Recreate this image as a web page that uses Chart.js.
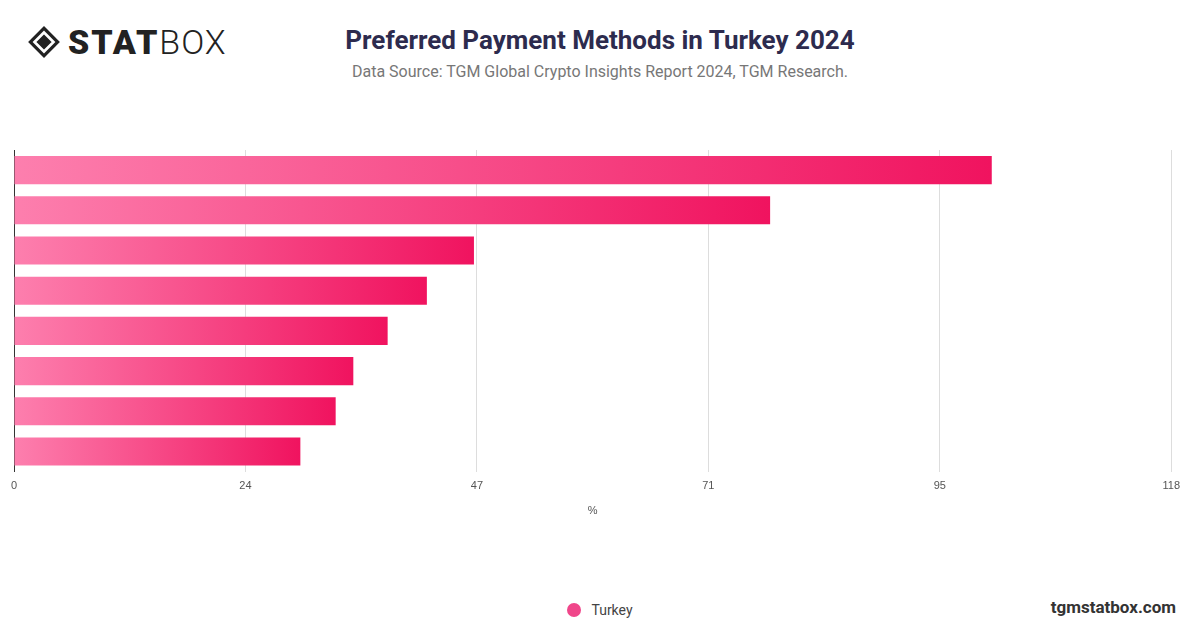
<!DOCTYPE html>
<html><head><meta charset="utf-8">
<script src="https://cdn.jsdelivr.net/npm/chart.js@4/dist/chart.umd.min.js"></script>
<style>
body{margin:0;width:1200px;height:628px;background:#fff;font-family:Roboto,"Open Sans",sans-serif;position:relative;overflow:hidden}
#logo{position:absolute;left:26px;top:22px;font-size:34px;color:#222;display:flex;align-items:center}
#logo svg{margin-right:6px}
#title{position:absolute;left:0;width:1200px;top:25px;text-align:center;font-size:26px;font-weight:bold;color:#2d2b4e}
#sub{position:absolute;left:0;width:1200px;top:62px;text-align:center;font-size:16px;color:#777}
#wrap{position:absolute;left:0;top:150px;width:1188px;height:372px}
#legend{position:absolute;top:602px;left:0;width:1200px;text-align:center;font-size:14px;color:#444}
#legend span.dot{display:inline-block;width:14px;height:14px;border-radius:50%;background:#f0468a;vertical-align:-2px;margin-right:10px}
#site{position:absolute;right:24px;top:597px;font-size:17px;font-weight:bold;color:#333}
</style></head><body>
<div id="logo"><svg width="36" height="36" viewBox="0 0 34 34"><path d="M17 2 L32 17 L17 32 L2 17Z" fill="#222"/><path d="M17 8 L26 17 L17 26 L8 17Z" fill="none" stroke="#fff" stroke-width="2.5"/></svg><b style="font-weight:900;letter-spacing:2px">STAT</b><span style="font-weight:300;letter-spacing:1px">BOX</span></div>
<div id="title">Preferred Payment Methods in Turkey 2024</div>
<div id="sub">Data Source: TGM Global Crypto Insights Report 2024, TGM Research.</div>
<div id="wrap"><canvas id="c"></canvas></div>
<div id="legend"><span class="dot"></span>Turkey</div>
<div id="site">tgmstatbox.com</div>
<script>
const categories=["Method 1","Method 2","Method 3","Method 4","Method 5","Method 6","Method 7","Method 8"];
const seriesName="Turkey";
const values=[99.7,77.1,46.9,42.1,38.1,34.6,32.8,29.2];
const tickValues=[0,23.6,47.2,70.8,94.4,118];
const tickLabels=["0","24","47","71","95","118"];
function grad(ctx){
  const ca=ctx.chart.chartArea; if(!ca) return '#f0468a';
  const g=ctx.chart.ctx.createLinearGradient(ca.left,0,ctx.chart.scales.x.getPixelForValue(values[ctx.dataIndex])+0.01,0);
  g.addColorStop(0,'#fd7fae');g.addColorStop(1,'#f0135f');return g;
}
new Chart(document.getElementById('c'),{type:'bar',
data:{labels:categories,datasets:[{label:seriesName,data:values,backgroundColor:grad,barPercentage:0.7,categoryPercentage:1}]},
options:{indexAxis:'y',responsive:true,maintainAspectRatio:false,animation:false,
layout:{padding:{left:6,right:0,top:0,bottom:0}},
plugins:{legend:{display:false},tooltip:{enabled:false}},
scales:{
x:{min:0,max:118,afterBuildTicks:a=>{a.ticks=tickValues.map(v=>({value:v}))},
 ticks:{callback:(v,i)=>tickLabels[i],color:'#555',font:{size:11},padding:8},
 grid:{color:'#ddd',drawTicks:false},border:{display:false},
 title:{display:true,text:'%',color:'#555',font:{size:11}}},
y:{ticks:{display:false},grid:{display:false},border:{color:'#333',width:1}}
}}});
</script>
</body></html>
